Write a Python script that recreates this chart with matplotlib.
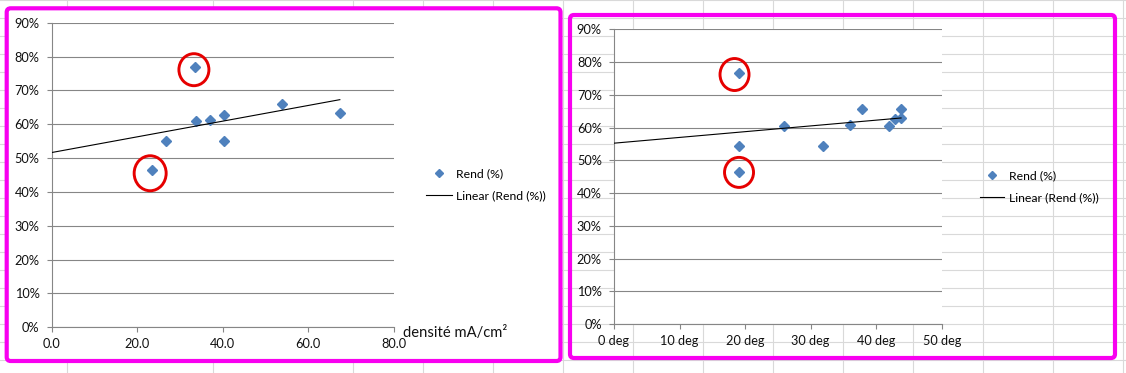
import matplotlib
matplotlib.use("Agg")
import matplotlib.pyplot as plt
import numpy as np
from matplotlib.patches import Ellipse, FancyBboxPatch
from matplotlib.lines import Line2D

# ---------------- data ----------------
dens_x = [23.5, 26.7, 33.5, 33.7, 37.1, 40.4, 40.4, 53.9, 67.4]
dens_y = [46.4, 55.0, 77.0, 61.0, 61.2, 62.6, 55.0, 66.0, 63.2]

angle_x = [19.0, 19.0, 19.0, 26.0, 31.9, 36.0, 37.8, 41.9, 42.9, 43.8, 43.8]
angle_y = [76.8, 54.5, 46.3, 60.6, 54.5, 60.9, 65.6, 60.6, 62.5, 65.6, 63.0]

y_ticks = [0, 10, 20, 30, 40, 50, 60, 70, 80, 90]
y_tick_labels = ["0%", "10%", "20%", "30%", "40%", "50%", "60%", "70%", "80%", "90%"]
dens_ticks = [0, 20, 40, 60, 80]
dens_tick_labels = ["0.0", "20.0", "40.0", "60.0", "80.0"]
angle_ticks = [0, 10, 20, 30, 40, 50]
angle_tick_labels = ["0 deg", "10 deg", "20 deg", "30 deg", "40 deg", "50 deg"]

series_label = "Rend (%)"
trend_label = "Linear (Rend (%))"
dens_axis_label = "densité mA/cm²"

dens_highlight = [0, 2]
angle_highlight = [2, 0]

# ---------------- style ----------------
W, H = 1126, 373
plt.rcParams["font.family"] = ["Lato", "DejaVu Sans"]
BLUE = "#4f81bd"
GRID = "#868686"
SHEET = "#d9d9d9"
MAGENTA = "#f800f0"
RED = "#e60000"
TICK_FS = 9.2
LEG_FS = 8.8

fig = plt.figure(figsize=(W / 100, H / 100), dpi=100)
fig.patch.set_facecolor("white")

# spreadsheet background
bg = fig.add_axes([0, 0, 1, 1])
bg.set_xlim(0, W)
bg.set_ylim(H, 0)
bg.axis("off")
for yy in np.arange(0, 365, 18.02):
    bg.axhline(yy, color=SHEET, lw=0.8, zorder=0)
for xx in [67, 213, 353, 423, 493, 563, 633, 703, 773, 843, 913, 983, 1053, 1123]:
    bg.axvline(xx, color=SHEET, lw=0.8, zorder=0)

# chart frames
bg.add_patch(FancyBboxPatch((6.7, 8.3), 553.8, 352.7, boxstyle="round,pad=0,rounding_size=4",
                            facecolor="white", edgecolor=MAGENTA, lw=3.0, zorder=2))
bg.add_patch(FancyBboxPatch((570, 15), 545, 343, boxstyle="round,pad=0,rounding_size=4",
                            facecolor="none", edgecolor=MAGENTA, lw=3.0, zorder=2))


def px_axes(left, right, top, bottom):
    return [left / W, (H - bottom) / H, (right - left) / W, (bottom - top) / H]


def style_axes(ax, xticks, xlabels, xmax):
    ax.set_facecolor("white")
    ax.set_xlim(0, xmax)
    ax.set_ylim(0, 90)
    ax.set_yticks(y_ticks)
    ax.set_yticklabels(y_tick_labels)
    ax.set_xticks(xticks)
    ax.set_xticklabels(xlabels)
    for s in ["top", "right"]:
        ax.spines[s].set_visible(False)
    for s in ["left", "bottom"]:
        ax.spines[s].set_color(GRID)
        ax.spines[s].set_linewidth(0.8)
    ax.yaxis.grid(True, color=GRID, lw=0.8)
    ax.set_axisbelow(True)
    ax.tick_params(axis="both", length=3.8, width=0.8, color=GRID, labelsize=TICK_FS,
                   labelcolor="#111111")
    ax.tick_params(axis="y", pad=5)
    ax.tick_params(axis="x", pad=4)


def draw_chart(ax, xs, ys, highlight, ell_px, ell_off):
    ax.plot(xs, ys, ls="none", marker="D", ms=4.8, color=BLUE, mec=BLUE, zorder=3, clip_on=False)
    slope, intercept = np.polyfit(xs, ys, 1)
    xt = np.array([0, max(xs)])
    ax.plot(xt, slope * xt + intercept, color="black", lw=0.8, zorder=4)
    # red circles around outliers
    fig.canvas.draw()
    bb = ax.get_window_extent()
    x0, x1 = ax.get_xlim()
    y0, y1 = ax.get_ylim()
    sx = (x1 - x0) / bb.width
    sy = (y1 - y0) / bb.height
    for idx, (wpx, hpx), (dxp, dyp) in zip(highlight, ell_px, ell_off):
        cx = xs[idx] + dxp * sx
        cy = ys[idx] + dyp * sy
        ax.add_patch(Ellipse((cx, cy), wpx * sx, hpx * sy, facecolor="none",
                             edgecolor=RED, lw=2.1, zorder=5, clip_on=False))


def add_legend(ax, left_px, center_px, line_px):
    handles = [Line2D([], [], ls="none", marker="D", ms=4.3, color=BLUE),
               Line2D([], [], color="black", lw=0.8)]
    em = LEG_FS * 100 / 72
    ax.legend(handles, [series_label, trend_label], loc="center left",
              bbox_to_anchor=(left_px / W, 1 - center_px / H), bbox_transform=fig.transFigure,
              frameon=False, fontsize=LEG_FS, handlelength=line_px / em,
              handletextpad=4.5 / em, borderpad=0, borderaxespad=0, labelspacing=0.85)


# chart 1
ax1 = fig.add_axes(px_axes(51.7, 393.7, 22.7, 327.3))
style_axes(ax1, dens_ticks, dens_tick_labels, 80)
draw_chart(ax1, dens_x, dens_y, dens_highlight, [(32, 35), (30, 32)], [(-2, -3), (-1, -3)])
add_legend(ax1, 426, 184.7, 25.7)
fig.text(403 / W, 1 - 332.7 / H, dens_axis_label, ha="left", va="center", fontsize=10.6,
         color="#111111")

# chart 2
ax2 = fig.add_axes(px_axes(614, 941.7, 29.3, 324))
style_axes(ax2, angle_ticks, angle_tick_labels, 50)
draw_chart(ax2, angle_x, angle_y, angle_highlight, [(29, 30), (29, 32)], [(0.5, 0), (-4, -2)])
add_legend(ax2, 980, 186.8, 24.3)

fig.savefig("out.png", dpi=100, facecolor="white")
